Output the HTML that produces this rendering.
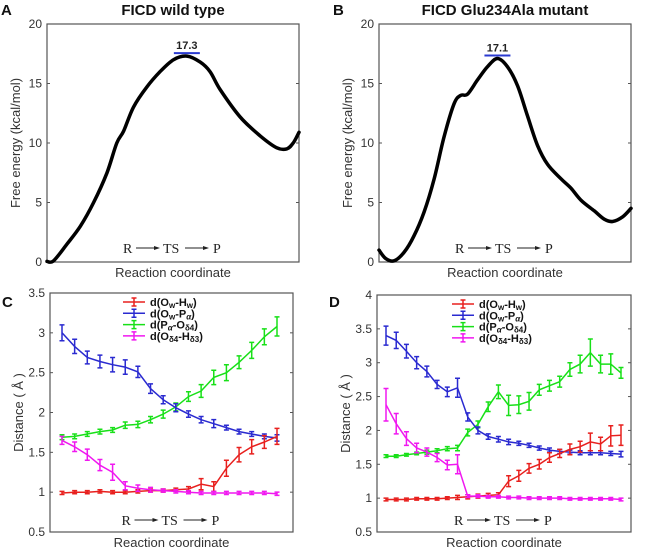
<!DOCTYPE html>
<html><head><meta charset="utf-8"><style>
body{margin:0;background:#fff;}
svg{display:block;font-family:"Liberation Sans",sans-serif;}
</style></head><body>
<svg id="fig" width="648" height="554" viewBox="0 0 648 554"></svg>
<script>
// ---- Data ----
const fracA = [0,0.026,0.079,0.132,0.185,0.238,0.277,0.304,0.343,0.396,0.449,0.502,0.555,0.608,0.647,0.687,0.766,0.846,0.912,0.951,0.977,1];
const energyA = [0.05,0.1,1.5,3.0,5.0,7.5,10,11,13,14.7,16,17,17.3,16.8,16.0,14.5,12.2,10.6,9.6,9.5,10.0,10.9];
const fracB = [0,0.026,0.060,0.099,0.139,0.179,0.219,0.258,0.298,0.324,0.351,0.391,0.430,0.470,0.510,0.550,0.589,0.629,0.669,0.722,0.762,0.801,0.854,0.894,0.927,0.967,1];
const energyB = [1.0,0.3,0.1,0.8,2.2,4.2,7.0,10.5,13.3,14.0,14.1,15.3,16.4,17.1,16.4,14.8,12.3,9.8,8.2,7.0,6.2,5.2,4.3,3.6,3.4,3.8,4.5];
const yTicksTop = [0,5,10,15,20];

const cRed = [0.99,1.0,1.0,1.01,1.0,1.0,1.01,1.02,1.02,1.03,1.04,1.1,1.07,1.3,1.47,1.57,1.63,1.7];
const cBlue = [3.0,2.83,2.69,2.64,2.6,2.57,2.51,2.3,2.16,2.06,1.98,1.91,1.86,1.81,1.76,1.73,1.7,1.68];
const cGreen = [1.69,1.7,1.73,1.76,1.78,1.84,1.85,1.91,1.98,2.07,2.2,2.27,2.44,2.5,2.63,2.78,2.95,3.08];
const cMag = [1.65,1.57,1.47,1.34,1.25,1.08,1.05,1.03,1.02,1.01,1.0,0.99,0.99,0.99,0.99,0.99,0.99,0.98];
const cRedErr = [0.02,0.02,0.02,0.02,0.02,0.02,0.02,0.02,0.02,0.02,0.03,0.07,0.06,0.1,0.09,0.09,0.08,0.1];
const cBlueErr = [0.1,0.09,0.08,0.08,0.09,0.09,0.07,0.06,0.05,0.05,0.04,0.04,0.05,0.03,0.03,0.03,0.03,0.04];
const cGreenErr = [0.03,0.03,0.03,0.03,0.03,0.04,0.04,0.04,0.05,0.05,0.06,0.08,0.09,0.1,0.08,0.1,0.1,0.12];
const cMagErr = [0.05,0.06,0.07,0.07,0.1,0.05,0.04,0.03,0.02,0.02,0.02,0.02,0.02,0.02,0.02,0.02,0.02,0.02];

const dRed = [0.98,0.98,0.98,0.99,0.99,0.99,1.0,1.01,1.02,1.03,1.04,1.05,1.25,1.33,1.44,1.5,1.6,1.66,1.72,1.76,1.83,1.8,1.92,1.93];
const dBlue = [3.4,3.33,3.17,3.0,2.87,2.68,2.57,2.63,2.2,2.0,1.91,1.87,1.83,1.81,1.78,1.74,1.71,1.69,1.68,1.67,1.67,1.67,1.66,1.65];
const dGreen = [1.62,1.62,1.64,1.66,1.68,1.7,1.73,1.74,1.97,2.09,2.35,2.57,2.37,2.38,2.43,2.6,2.66,2.72,2.9,2.98,3.15,2.98,2.98,2.85];
const dMag = [2.38,2.1,1.88,1.74,1.68,1.6,1.49,1.5,1.03,1.03,1.02,1.02,1.01,1.01,1.0,1.0,1.0,1.0,0.99,0.99,0.99,0.99,0.99,0.98];
const dRedErr = [0.02,0.02,0.02,0.02,0.02,0.02,0.02,0.03,0.03,0.03,0.03,0.03,0.08,0.08,0.07,0.07,0.07,0.06,0.08,0.08,0.13,0.1,0.15,0.15];
const dBlueErr = [0.14,0.12,0.1,0.09,0.08,0.06,0.07,0.14,0.06,0.05,0.04,0.04,0.04,0.03,0.03,0.03,0.03,0.03,0.03,0.03,0.03,0.03,0.03,0.04];
const dGreenErr = [0.02,0.02,0.02,0.02,0.03,0.03,0.03,0.04,0.05,0.05,0.07,0.1,0.15,0.13,0.13,0.08,0.08,0.08,0.1,0.13,0.2,0.13,0.15,0.08];
const dMagErr = [0.24,0.15,0.1,0.07,0.06,0.06,0.07,0.14,0.02,0.02,0.02,0.02,0.02,0.02,0.02,0.02,0.02,0.02,0.02,0.02,0.02,0.02,0.02,0.02];

const yTicksC = [0.5,1,1.5,2,2.5,3,3.5];
const yTicksD = [0.5,1,1.5,2,2.5,3,3.5,4];
const legendLabels = ['d(O<tspan font-size="8" dy="2">w</tspan><tspan dy="-2">-H</tspan><tspan font-size="8" dy="2">w</tspan><tspan dy="-2">)</tspan>',
 'd(O<tspan font-size="8" dy="2">w</tspan><tspan dy="-2">-P</tspan><tspan font-size="8" dy="2" font-style="italic">α</tspan><tspan dy="-2">)</tspan>',
 'd(P<tspan font-size="8" dy="2" font-style="italic">α</tspan><tspan dy="-2">-O</tspan><tspan font-size="8" dy="2">δ4</tspan><tspan dy="-2">)</tspan>',
 'd(O<tspan font-size="8" dy="2">δ4</tspan><tspan dy="-2">-H</tspan><tspan font-size="8" dy="2">δ3</tspan><tspan dy="-2">)</tspan>'];
const colors = ['#e8201e','#2a2ad0','#18e018','#f018f0'];

const NS='http://www.w3.org/2000/svg';
const svg=document.getElementById('fig');
function mk(tag,attrs,parent){const e=document.createElementNS(NS,tag);for(const k in attrs)e.setAttribute(k,attrs[k]);(parent||svg).appendChild(e);return e;}
function txt(x,y,s,attrs,parent){const e=mk('text',Object.assign({x:x,y:y},attrs||{}),parent);e.innerHTML=s;return e;}
function smooth(pts){
  let d='M'+pts[0][0].toFixed(1)+' '+pts[0][1].toFixed(1);
  for(let i=0;i<pts.length-1;i++){
    const p0=pts[Math.max(0,i-1)],p1=pts[i],p2=pts[i+1],p3=pts[Math.min(pts.length-1,i+2)];
    const c1=[p1[0]+(p2[0]-p0[0])/6,p1[1]+(p2[1]-p0[1])/6];
    const c2=[p2[0]-(p3[0]-p1[0])/6,p2[1]-(p3[1]-p1[1])/6];
    d+=`C${c1[0].toFixed(1)} ${c1[1].toFixed(1)} ${c2[0].toFixed(1)} ${c2[1].toFixed(1)} ${p2[0].toFixed(1)} ${p2[1].toFixed(1)}`;
  }
  return d;
}

function frame(L,R,T,B,ymin,ymax,ticks,name,ylabel){
  const g=mk('g',{});
  
  
  const ys=v=>B-(v-ymin)/(ymax-ymin)*(B-T);
  mk('rect',{x:L,y:T,width:R-L,height:B-T,fill:'none',stroke:'#555','stroke-width':1.2},g);
  ticks.forEach(t=>{
    const y=ys(t);
    mk('line',{x1:L,x2:L+3,y1:y,y2:y,stroke:'#555'},g);
    mk('line',{x1:R-3,x2:R,y1:y,y2:y,stroke:'#555'},g);
    const e=txt(L-5,y+4,String(t),{'text-anchor':'end','font-size':12,fill:'#333'},g);
    
    
  });
  const yl=txt(0,0,ylabel,{'font-size':13,fill:'#333','text-anchor':'middle',transform:`translate(${L-27},${(T+B)/2}) rotate(-90)`},g);
  
  
  const xl=txt((L+R)/2,B+15,'Reaction coordinate',{'font-size':13,fill:'#333','text-anchor':'middle'},g);
  
  
  return ys;
}
function arrowLabel(cx,y){
  const g=mk('g',{'font-family':'"Liberation Serif",serif','font-size':14,fill:'#222'});
  
  
  txt(cx-50,y,'R',{},g);
  mk('line',{x1:cx-37,x2:cx-15,y1:y-5,y2:y-5,stroke:'#222'},g);
  mk('path',{d:`M${cx-13} ${y-5} l-6 -2 v4z`,fill:'#222'},g);
  txt(cx-10,y,'TS',{},g);
  mk('line',{x1:cx+12,x2:cx+34,y1:y-5,y2:y-5,stroke:'#222'},g);
  mk('path',{d:`M${cx+36} ${y-5} l-6 -2 v4z`,fill:'#222'},g);
  txt(cx+40,y,'P',{},g);
}
function energyPanel(L,R,T,B,fr,en,title,letter,peak,name){
  const ys=frame(L,R,T,B,0,20,yTicksTop,name,'Free energy (kcal/mol)');
  const xs=f=>L+f*(R-L);
  const pts=fr.map((f,i)=>[xs(f),ys(en[i])]);
  const p=mk('path',{d:smooth(pts),fill:'none',stroke:'#000','stroke-width':3.5,'stroke-linejoin':'round','stroke-linecap':'round'});
  
  
  let mi=0;en.forEach((v,i)=>{if(v>en[mi])mi=i;});
  const px=xs(fr[mi]),py=ys(en[mi]);
  mk('line',{x1:px-13,x2:px+13,y1:py-3,y2:py-3,stroke:'#2a3ad0','stroke-width':2});
  const t=txt(px,py-7,peak,{'font-size':11,'font-weight':'bold','text-anchor':'middle',fill:'#222'});
  
  
  const tt=txt((L+R)/2,15,title,{'font-size':15,'font-weight':'bold','text-anchor':'middle',fill:'#111'});
  
  
  const lt=txt(L-46,15,letter,{'font-size':15,'font-weight':'bold',fill:'#111'});
  
  
  arrowLabel((L+R)/2,253);
}
function distPanel(L,R,T,B,ymin,ymax,ticks,x0,x1,series,errs,letter,lx,ly,name){
  const ys=frame(L,R,T,B,ymin,ymax,ticks,name,'Distance ( Å )');
  const n=series[0].length;
  const xs=i=>x0+i*(x1-x0)/(n-1);
  const order=[2,1,0,3];
  order.forEach(s=>{
    const vals=series[s];const err=errs[s];
    const g=mk('g',{stroke:colors[s],fill:'none','stroke-width':1.5});
    
    
    let d='';vals.forEach((v,i)=>{d+=(i?'L':'M')+xs(i).toFixed(1)+' '+ys(v).toFixed(1);});
    mk('path',{d:d},g);
    vals.forEach((v,i)=>{
      const e=err[i];
      const x=xs(i),y1=ys(v-e),y2=ys(v+e);
      mk('path',{d:`M${x} ${y1}V${y2}M${x-2.5} ${y1}h5M${x-2.5} ${y2}h5`},g);
    });
  });
  legendLabels.forEach((lab,k)=>{
    const y=ly+k*11.3;
    const g=mk('g',{});
    
    
    mk('path',{d:`M${lx} ${y}h22M${lx+11} ${y-4}v8M${lx+8.5} ${y-4}h5M${lx+8.5} ${y+4}h5`,stroke:colors[k],'stroke-width':1.5},g);
    txt(lx+27,y+4,lab,{'font-size':11,fill:'#111','font-weight':'bold'},g);
  });
  const lt=txt(L-48,B-225,letter,{'font-size':15,'font-weight':'bold',fill:'#111'});
  
  
  arrowLabel((L+R)/2,525);
}
energyPanel(47,299,24,262,fracA,energyA,'FICD wild type','A','17.3','panel-a');
energyPanel(379,631,24,262,fracB,energyB,'FICD Glu234Ala mutant','B','17.1','panel-b');
distPanel(50,293,293,532,0.5,3.5,yTicksC,62,277,[cRed,cBlue,cGreen,cMag],[cRedErr,cBlueErr,cGreenErr,cMagErr],'C',123,302,'panel-c');
distPanel(377,631,295,532,0.5,4,yTicksD,386,621,[dRed,dBlue,dGreen,dMag],[dRedErr,dBlueErr,dGreenErr,dMagErr],'D',452,304,'panel-d');
</script>
</body></html>
